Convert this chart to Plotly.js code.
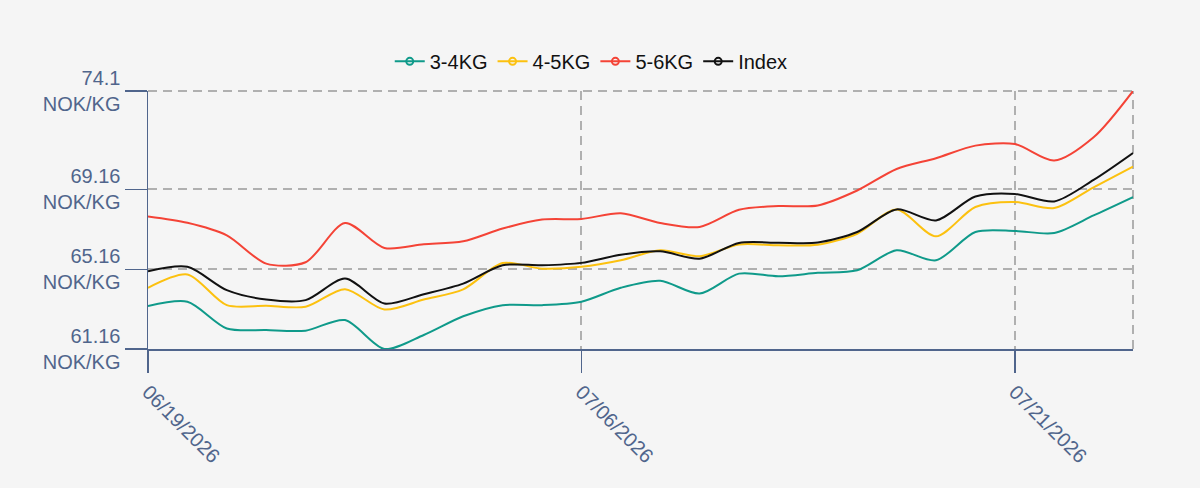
<!DOCTYPE html>
<html>
<head>
<meta charset="utf-8">
<script src="https://cdn.plot.ly/plotly-3.0.1.min.js"></script>
<style>
  html, body { margin: 0; padding: 0; background: #f5f5f5; }
  #chart { width: 1200px; height: 488px; }
</style>
</head>
<body>
<div id="chart"></div>
<script>
// trading days (weekdays only)
var dates = [
  '06/19/2026', '06/22/2026', '06/23/2026', '06/24/2026', '06/25/2026', '06/26/2026',
  '06/29/2026', '06/30/2026', '07/01/2026', '07/02/2026', '07/03/2026',
  '07/06/2026', '07/07/2026', '07/08/2026', '07/09/2026', '07/10/2026',
  '07/13/2026', '07/14/2026', '07/15/2026', '07/16/2026', '07/17/2026',
  '07/20/2026', '07/21/2026', '07/22/2026', '07/23/2026', '07/24/2026'
]

var kg34 = [63.31, 63.53, 62.19, 62.11, 62.08, 62.61, 61.16, 61.86, 62.8, 63.36, 63.36,
  63.53, 64.23, 64.58, 63.94, 64.94, 64.81, 64.98, 65.11, 66.11, 65.61,
  67.03, 67.08, 66.98, 67.86, 68.78]
var kg45 = [64.23, 64.9, 63.36, 63.33, 63.28, 64.16, 63.14, 63.64, 64.15, 65.47, 65.19,
  65.28, 65.61, 66.11, 65.81, 66.4, 66.36, 66.39, 66.94, 68.16, 66.81,
  68.28, 68.53, 68.23, 69.27, 70.31]
var kg56 = [67.81, 67.49, 66.86, 65.44, 65.51, 67.48, 66.23, 66.41, 66.56, 67.2, 67.65,
  67.68, 67.97, 67.48, 67.28, 68.14, 68.33, 68.36, 69.11, 70.19, 70.73,
  71.36, 71.44, 70.61, 71.78, 74.1]
var index = [65.06, 65.28, 64.11, 63.64, 63.61, 64.69, 63.44, 63.91, 64.44, 65.36, 65.36,
  65.48, 65.89, 66.06, 65.69, 66.48, 66.49, 66.5, 67.03, 68.16, 67.61,
  68.81, 68.94, 68.56, 69.64, 70.99]

var yTicks = [61.16, 65.16, 69.16, 74.1]
var xTicks = ['06/19/2026', '07/06/2026', '07/21/2026']

var series = [
  { name: '3-4KG', y: kg34, color: '#0f9a8a' },
  { name: '4-5KG', y: kg45, color: '#fcc10f' },
  { name: '5-6KG', y: kg56, color: '#f44336' },
  { name: 'Index', y: index, color: '#111111' }
]

var axisColor = '#50658c'
var gridColor = '#b0b0b0'
var gridDash = '9px,6px'

var data = series.map(function (s) {
  return {
    x: dates,
    y: s.y,
    name: s.name,
    type: 'scatter',
    mode: 'lines+markers',
    line: { color: s.color, width: 2, shape: 'spline', smoothing: 0.8 },
    marker: { symbol: 'circle-open', size: 7, color: s.color, line: { width: 2 } },
    // markers only show in the legend
    selectedpoints: [],
    unselected: { marker: { opacity: 0 } },
    hoverinfo: 'x+y+name'
  }
})

var layout = {
  width: 1200,
  height: 488,
  paper_bgcolor: '#f5f5f5',
  plot_bgcolor: '#f5f5f5',
  font: { family: 'Liberation Sans, Arial, sans-serif', size: 20, color: axisColor },
  margin: { l: 148, r: 67, t: 91, b: 139 },
  showlegend: true,
  legend: {
    orientation: 'h',
    x: 0.45,
    xanchor: 'center',
    y: 1.115,
    yanchor: 'middle',
    font: { size: 20, color: '#111111' },
    bgcolor: 'rgba(0,0,0,0)'
  },
  xaxis: {
    type: 'category',
    range: [0, dates.length - 1],
    tickmode: 'array',
    tickvals: xTicks,
    ticktext: xTicks,
    tickangle: 45,
    ticks: 'outside',
    ticklen: 22,
    tickwidth: 1.5,
    tickcolor: axisColor,
    showline: true,
    linecolor: axisColor,
    linewidth: 1.5,
    showgrid: true,
    gridcolor: gridColor,
    gridwidth: 2,
    griddash: gridDash,
    zeroline: false,
    tickfont: { size: 20, color: axisColor }
  },
  yaxis: {
    range: [61.16, 74.1],
    tickmode: 'array',
    tickvals: yTicks,
    ticktext: yTicks.map(function (v) { return v + '<br>NOK/KG' }),
    ticks: 'outside',
    ticklen: 22,
    tickwidth: 1.5,
    tickcolor: axisColor,
    showline: true,
    linecolor: axisColor,
    linewidth: 1.5,
    showgrid: true,
    gridcolor: gridColor,
    gridwidth: 2,
    griddash: gridDash,
    zeroline: false,
    tickfont: { size: 20, color: axisColor }
  },
  // grid lines along the right and top edges
  shapes: [{
    type: 'line',
    xref: 'paper', yref: 'paper',
    x0: 1, x1: 1, y0: 0, y1: 1,
    line: { color: gridColor, width: 2, dash: gridDash },
    layer: 'below'
  }, {
    type: 'line',
    xref: 'paper', yref: 'paper',
    x0: 0, x1: 1, y0: 1, y1: 1,
    line: { color: gridColor, width: 2, dash: gridDash },
    layer: 'below'
  }]
}

Plotly.newPlot('chart', data, layout, { displayModeBar: false, staticPlot: true })
</script>
</body>
</html>
